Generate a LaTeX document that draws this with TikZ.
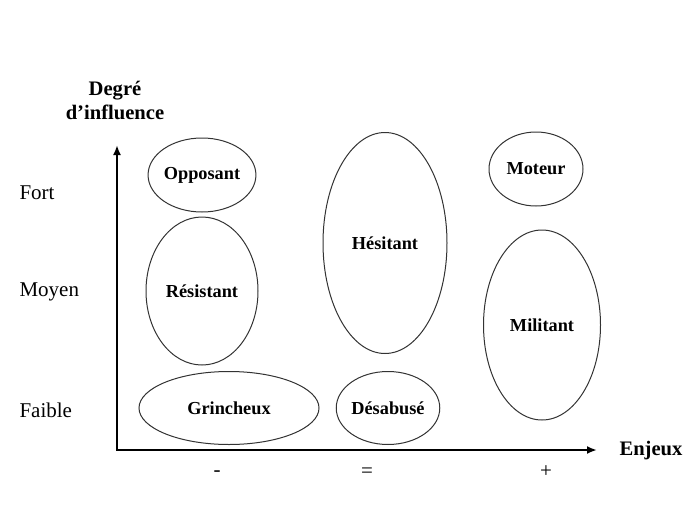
\documentclass[tikz,border=0pt]{standalone}
\usepackage{fontspec}
\setmainfont{Liberation Serif}
\usetikzlibrary{shapes.geometric,arrows.meta}

\tikzset{
  profil/.style={draw=black!80,line width=1pt,ellipse,inner sep=0pt,
    font=\fontsize{18.3}{20}\selectfont\bfseries},
  niveau/.style={anchor=west,font=\fontsize{21}{23}\selectfont},
  titre/.style={font=\fontsize{20.6}{24}\selectfont\bfseries,align=center},
  signe/.style={font=\fontsize{21}{23}\selectfont},
  axe/.style={line width=2.5pt,{Latex[length=10pt,width=8pt]}-{Latex[length=10pt,width=8pt]}}
}

\begin{document}
\begin{tikzpicture}[x=1pt,y=-1pt]
    \useasboundingbox (0,0) rectangle (693,506);
    \coordinate (O) at (117,450);
    \coordinate (haut) at (117,145);
    \coordinate (droite) at (597,450);
    \draw[axe] (haut) -- (O) -- (droite);
    \node[titre] (degre) at (115,100) {Degré\\d'influence};
    \node[titre,anchor=west] (enjeux) at (616,451) {Enjeux};
    \node[niveau] (fort) at (16,193) {Fort};
    \node[niveau] (moyen) at (16,292) {Moyen};
    \node[niveau] (faible) at (16,410) {Faible};
    \node[signe] (moins) at (217,474) {-};
    \node[signe] (egal) at (367,473) {=};
    \node[signe] (plus) at (546,472) {+};
    \node[profil,minimum width=100pt,minimum height=74pt] (opposant) at (202,175) {Opposant};
    \node[profil,minimum width=112pt,minimum height=148pt] (resistant) at (202,291) {Résistant};
    \node[profil,minimum width=180pt,minimum height=73pt] (grincheux) at (229,408) {Grincheux};
    \node[profil,minimum width=124pt,minimum height=221pt] (hesitant) at (385,243) {Hésitant};
    \node[profil,minimum width=102pt,minimum height=73pt] (desabuse) at (388,408) {Désabusé};
    \node[profil,minimum width=94pt,minimum height=74pt] (moteur) at (536,169) {Moteur};
    \node[profil,minimum width=117pt,minimum height=190pt] (militant) at (542,325) {Militant};
\end{tikzpicture}
\end{document}
